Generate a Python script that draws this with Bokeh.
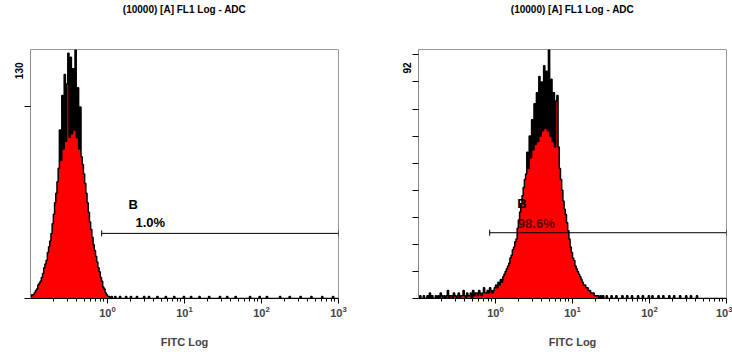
from bokeh.plotting import figure
from bokeh.models import Range1d, FixedTicker, Label, Span, Title
from bokeh.layouts import row
from bokeh.embed import file_html
from bokeh.resources import INLINE

# ---------------- data ----------------
title_text = "(10000) [A] FL1 Log - ADC"
x_label = "FITC Log"
x_min, x_max = 0.1, 1000          # 4 decades, 256 log channels
n_channels = 256

left_counts = [
    1, 2, 2, 3, 4, 5, 7, 8, 9, 11, 13, 16, 18, 20, 24, 27,
    30, 34, 39, 44, 50, 55, 61, 68, 88, 72, 106, 78, 117, 82, 112, 128,
    84, 126, 86, 120, 88, 130, 84, 110, 78, 100, 74, 70, 65, 60, 55, 50,
    45, 40, 36, 32, 28, 25, 22, 19, 16, 14, 11, 9, 6, 5, 3, 2,
    1, 1, 0, 1, 0, 0, 1, 0, 0, 0, 1, 0, 0, 0, 0, 1,
    0, 0, 0, 1, 0, 0, 0, 0, 1, 0, 0, 0, 0, 0, 1, 0,
    0, 0, 1, 0, 0, 0, 0, 0, 0, 1, 0, 0, 0, 0, 0, 0,
    1, 0, 0, 0, 0, 0, 0, 1, 0, 0, 0, 0, 0, 0, 0, 1,
    0, 0, 0, 0, 0, 1, 0, 0, 0, 0, 0, 0, 1, 0, 0, 0,
    0, 0, 0, 0, 1, 0, 0, 0, 0, 0, 0, 0, 0, 1, 0, 0,
    0, 0, 0, 1, 0, 0, 0, 0, 0, 0, 1, 0, 0, 0, 0, 0,
    0, 0, 0, 0, 0, 0, 1, 0, 0, 0, 0, 0, 0, 0, 1, 0,
    0, 0, 0, 0, 1, 0, 0, 0, 0, 0, 0, 0, 0, 0, 0, 1,
    0, 0, 0, 0, 0, 0, 0, 1, 0, 0, 0, 0, 0, 0, 0, 0,
    1, 0, 0, 0, 0, 0, 0, 0, 0, 1, 0, 0, 0, 0, 0, 0,
    0, 0, 1, 0, 0, 0, 0, 0, 0, 0, 0, 1, 0, 0, 0, 0,
]

right_counts = [
    0, 1, 0, 0, 1, 0, 0, 1, 0, 2, 0, 1, 0, 0, 1, 0,
    1, 0, 2, 1, 0, 1, 0, 1, 3, 0, 1, 1, 0, 2, 1, 0,
    1, 2, 0, 1, 1, 3, 1, 0, 2, 1, 1, 2, 0, 3, 1, 2,
    2, 1, 3, 2, 1, 2, 4, 2, 2, 3, 2, 4, 3, 2, 3, 4,
    5, 4, 6, 5, 7, 6, 8, 9, 10, 11, 12, 13, 15, 16, 18, 19,
    21, 22, 26, 29, 32, 35, 38, 41, 44, 46, 54, 48, 60, 52, 66, 55,
    72, 57, 76, 58, 82, 60, 80, 62, 86, 63, 84, 62, 92, 60, 81, 58,
    76, 56, 73, 75, 56, 48, 44, 40, 36, 33, 31, 28, 25, 22, 19, 17,
    15, 14, 12, 11, 10, 9, 8, 7, 6, 5, 5, 4, 4, 3, 3, 2,
    2, 2, 1, 1, 1, 1, 0, 1, 0, 1, 0, 0, 1, 0, 0, 0,
    1, 0, 0, 0, 1, 0, 0, 0, 0, 1, 0, 0, 0, 1, 0, 0,
    0, 1, 0, 0, 0, 0, 1, 0, 0, 0, 1, 0, 0, 0, 0, 1,
    0, 0, 1, 0, 0, 0, 0, 1, 0, 0, 0, 1, 0, 0, 0, 0,
    1, 0, 0, 0, 1, 0, 0, 0, 0, 1, 0, 0, 0, 0, 1, 0,
    0, 0, 1, 0, 0, 0, 0, 1, 0, 0, 0, 0, 0, 0, 0, 0,
    0, 0, 0, 0, 0, 0, 0, 0, 0, 0, 0, 0, 0, 0, 0, 0,
]

left_ymax, right_ymax = 130, 92
left_yticks = [0, 100]
right_yticks = [0, 10, 20, 30, 40, 50, 60, 70, 80, 90]
x_major_ticks = [1, 10, 100, 1000]

gate_start = 0.84
left_gate_level, right_gate_level = 34, 24.3
left_gate_pct, right_gate_pct = "1.0%", "98.6%"
gate_name = "B"

FONT = "Liberation Sans"

edges = [x_min * (x_max / x_min) ** (c / n_channels) for c in range(n_channels + 1)]
minor_ticks = [m * 10 ** e for e in range(-1, 3) for m in range(2, 10)]


def make_panel(counts, ymax, yticks, gate_level, border_left, border_right, ylab_offset):
    p = figure(width=366, height=352, x_axis_type="log",
               x_range=Range1d(x_min, x_max), y_range=Range1d(0, ymax),
               output_backend="svg", toolbar_location=None,
               min_border_left=border_left, min_border_right=border_right,
               min_border_top=49, min_border_bottom=54,
               background_fill_color="white", border_fill_color="white")
    p.outline_line_color = None
    p.grid.visible = False

    # real title (outermost slot) + blank spacer title next to the frame
    p.title.text = title_text
    p.title.align = "center"
    p.title.offset = -6
    p.title.standoff = 0
    p.title.text_font = FONT
    p.title.text_font_style = "bold"
    p.title.text_font_size = "10px"
    p.title.text_color = "black"
    p.add_layout(Title(text=" ", standoff=0, text_font_size="30px"), "above")

    xa = p.xaxis[0]
    xa.ticker = FixedTicker(ticks=x_major_ticks, minor_ticks=minor_ticks)
    xa.axis_line_color = "black"
    xa.major_tick_in = 0
    xa.major_tick_out = 5
    xa.minor_tick_in = 0
    xa.minor_tick_out = 3
    xa.major_label_text_font = FONT
    xa.major_label_text_font_style = "bold"
    xa.major_label_text_font_size = "11px"
    xa.major_label_standoff = 2
    xa.axis_label = x_label
    xa.axis_label_text_font = FONT
    xa.axis_label_text_font_style = "bold"
    xa.axis_label_text_font_size = "11px"
    xa.axis_label_standoff = 16

    ya = p.yaxis[0]
    ya.ticker = FixedTicker(ticks=yticks)
    ya.axis_line_color = "#8a8a8a"
    ya.major_tick_in = 0
    ya.major_tick_out = 6
    ya.major_label_standoff = 0
    ya.minor_tick_line_color = None
    ya.major_label_text_font_size = "0px"
    ya.major_label_text_color = None

    # y max label, rotated, near the top of the axis
    p.add_layout(Title(text=str(ymax), align="right", offset=ylab_offset, standoff=4,
                       text_font=FONT, text_font_style="bold", text_font_size="10px",
                       text_color="black"), "left")

    # frame top / right
    p.add_layout(Span(location=ymax, dimension="width", line_color="#303030", line_width=1))
    p.add_layout(Span(location=x_max, dimension="height", line_color="#303030", line_width=1))

    xs = edges
    ys = counts + [counts[-1]]
    p.varea_step(x=xs, y1=[0] * len(xs), y2=ys, step_mode="after", fill_color="red")
    p.step(x=xs, y=ys, mode="after", line_color="black", line_width=1.5)

    # gate marker
    p.segment(x0=[gate_start], y0=[gate_level], x1=[x_max], y1=[gate_level],
              line_color="black", line_width=1)
    tick_h = ymax * 0.012
    p.segment(x0=[gate_start, x_max], y0=[gate_level - tick_h] * 2,
              x1=[gate_start, x_max], y1=[gate_level + tick_h] * 2,
              line_color="black", line_width=1)
    return p


p1 = make_panel(left_counts, left_ymax, left_yticks, left_gate_level, 30, 28, 13)
p2 = make_panel(right_counts, right_ymax, right_yticks, right_gate_level, 52, 6, 13)

p1.add_layout(Label(x=1.875, y=49.3, text=gate_name, text_align="left", text_baseline="middle",
                    text_font=FONT, text_font_style="bold", text_font_size="13px", text_color="black"))
p1.add_layout(Label(x=2.31, y=39.7, text=left_gate_pct, text_align="left", text_baseline="middle",
                    text_font=FONT, text_font_style="bold", text_font_size="13px", text_color="black"))
p2.add_layout(Label(x=1.91, y=35, text=gate_name, text_align="left", text_baseline="middle",
                    text_font=FONT, text_font_style="bold", text_font_size="13px", text_color="black"))
p2.add_layout(Label(x=1.95, y=27.8, text=right_gate_pct, text_align="left", text_baseline="middle",
                    text_font=FONT, text_font_style="bold", text_font_size="13px", text_color="#5a0000"))

layout = row(p1, p2)
open("out.html", "w").write(file_html(layout, INLINE))
